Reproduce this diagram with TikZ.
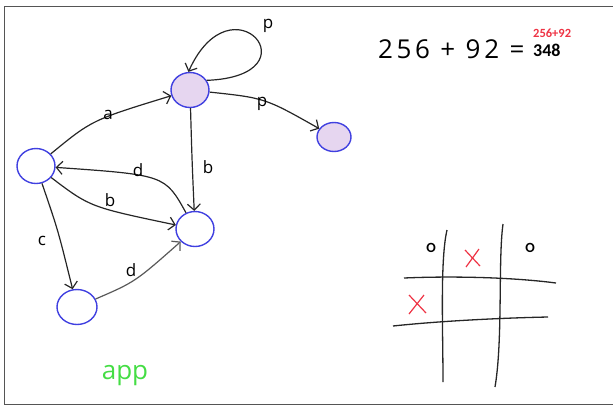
\documentclass[tikz,border=0pt]{standalone}
\usepackage{fontspec}
\setmainfont{Open Sans}
\newfontfamily\boldf{Carlito}
\usetikzlibrary{arrows.meta,shapes.geometric}
\definecolor{nodeblue}{HTML}{4040E0}
\definecolor{nodefill}{HTML}{E6D6F0}
\definecolor{handgreen}{HTML}{44DD44}
\definecolor{handred}{HTML}{EE3344}
\definecolor{frame}{HTML}{555555}
\begin{document}
\begin{tikzpicture}[x=1pt,y=-1pt,
 st/.style={ellipse,draw=nodeblue,line width=1.4pt,inner sep=0pt,minimum width=38pt,minimum height=35pt},
 acc/.style={st,fill=nodefill},
 edge/.style={draw=black!85,line width=1.2pt,-{Straight Barb[length=6pt,width=13pt,line width=1.2pt]}},
 lab/.style={font=\fontsize{17}{17}\selectfont,inner sep=0pt},
 grid/.style={draw=black!85,line width=1.3pt},
 cross/.style={draw=handred,line width=1.2pt},
]
\useasboundingbox (0,0) rectangle (613,405);
\draw[frame,line width=1pt] (616,6) -- (4,6) -- (4,404) -- (616,404);

% nodes
\node[acc] (A) at (190,90) {};
\node[acc,minimum width=34pt,minimum height=29pt] (R) at (334,137) {};
\node[st] (L) at (36,166) {};
\node[st] (M) at (195,229) {};
\node[st,minimum width=40pt] (B) at (77,307) {};

% edges
\draw[edge] (L) .. controls (92,120) .. (A);
\draw[edge] (A.30) .. controls (318,76) and (232,-25) .. (A.95);
\draw[edge] (A) .. controls (265,98) .. (R);
\draw[edge] (A) .. controls (192,160) .. (M);
\draw[edge] (M) .. controls (165,175) .. (L);
\draw[edge] (L) .. controls (90,207) .. (M);
\draw[edge] (L) .. controls (58,230) .. (B);
\draw[edge,draw=black!65] (B) .. controls (135,282) .. (M);

% edge labels
\node[lab] (la) at (108,115) {a};
\node[lab] (lp1) at (268,26) {p};
\node[lab] (lp2) at (262,104) {p};
\node[lab] (lb1) at (208,167) {b};
\node[lab] (ld1) at (138,170) {d};
\node[lab] (lb2) at (110,200) {b};
\node[lab] (lc) at (42,241) {c};
\node[lab] (ld2) at (131,270) {d};

% app
\node[font=\fontsize{26}{26}\selectfont,text=handgreen,inner sep=0pt] (app) at (125,376) {app};

% equation
\node[font=\fontsize{26}{26}\selectfont\addfontfeature{LetterSpace=14},anchor=base west,inner sep=0pt] (eq) at (378,58) {256 + 92 =};
\node[font=\boldf\bfseries\fontsize{12.5}{12.5}\selectfont,text=handred,anchor=west,inner sep=0pt] (sum) at (533,33) {256+92};
\node[font=\boldf\bfseries\fontsize{18}{18}\selectfont,anchor=west,inner sep=0pt] (res) at (533,50) {348};

% tic-tac-toe
\coordinate (v1a) at (447,230); \coordinate (v1b) at (443,382);
\coordinate (v2a) at (503,224); \coordinate (v2b) at (495,387);
\coordinate (h1a) at (404,278); \coordinate (h1b) at (556,283);
\coordinate (h2a) at (393,326); \coordinate (h2b) at (548,317);
\draw[grid] (v1a) .. controls (440,260) and (443,330) .. (v1b);
\draw[grid] (v2a) .. controls (498,260) and (503,340) .. (v2b);
\draw[grid] (h1a) .. controls (450,276) and (510,277) .. (h1b);
\draw[grid] (h2a) .. controls (440,321) and (500,318) .. (h2b);
\node[font=\boldf\bfseries\fontsize{14}{14}\selectfont,inner sep=0pt] (o1) at (431,248) {O};
\node[font=\boldf\bfseries\fontsize{14}{14}\selectfont,inner sep=0pt] (o2) at (530,248) {O};
\coordinate (x1) at (472,258); \coordinate (x2) at (417,304);
\draw[cross] ([shift={(-7,-8)}]x1) -- ([shift={(8,8)}]x1);
\draw[cross] ([shift={(7,-9)}]x1) -- ([shift={(-6,9)}]x1);
\draw[cross] ([shift={(-8,-9)}]x2) -- ([shift={(9,9)}]x2);
\draw[cross] ([shift={(7,-9)}]x2) -- ([shift={(-8,10)}]x2);
\end{tikzpicture}
\end{document}
